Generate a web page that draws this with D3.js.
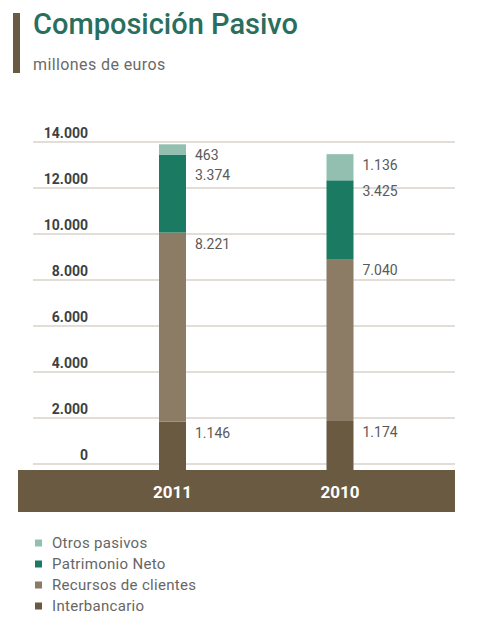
<!DOCTYPE html>
<html>
<head>
<meta charset="utf-8">
<script src="https://cdn.jsdelivr.net/npm/d3@7"></script>
<style>
  body { margin: 0; background: #fff; }
  svg { display: block; font-family: Roboto, "DejaVu Sans", sans-serif; }
</style>
</head>
<body>
<svg id="chart" width="478" height="642"></svg>
<script>
// data (millones de euros)
const years = ["2011", "2010"];
const series = ["Interbancario", "Recursos de clientes", "Patrimonio Neto", "Otros pasivos"];
const interbancario = [1146, 1174];
const recursos = [8221, 7040];
const patrimonio = [3374, 3425];
const otros = [463, 1136];
const yTicks = [0, 2000, 4000, 6000, 8000, 10000, 12000, 14000];
const colors = ["#6b5a42", "#8c7b65", "#1a7a62", "#93bfb0"];

const svg = d3.select("#chart");

const fmt = (v) => d3.format(",")(v).replace(/,/g, ".");

// title
svg.append("rect").attr("x", 13).attr("y", 13).attr("width", 7).attr("height", 60).attr("fill", "#6b5a42");
svg.append("text").attr("x", 33).attr("y", 34)
  .attr("fill", "#2a6e5e").attr("font-size", 29).attr("font-weight", 500)
  .text("Composición Pasivo");
svg.append("text").attr("x", 33).attr("y", 70)
  .attr("fill", "#6a6a6a").attr("font-size", 16).attr("letter-spacing", 0.4)
  .text("millones de euros");

// grid scale; in the original the stacks sit a bit above the 0 line,
// so the bars use the same scale shifted up
const y = d3.scaleLinear().domain([0, 14000]).range([464, 142]);
const barShift = 16;
const yBar = y.copy().range(y.range().map((r) => r - barShift));
const x = d3.scalePoint().domain(years).range([172.5, 340]);
const barW = 27;
const bandTop = 470;

// grid + tick labels
const grid = svg.append("g");
grid.selectAll("line").data(yTicks).join("line")
  .attr("x1", 33).attr("x2", 455)
  .attr("y1", (d) => y(d)).attr("y2", (d) => y(d))
  .attr("stroke", "#d8d2ca").attr("stroke-width", 1.5);
grid.selectAll("text").data(yTicks).join("text")
  .attr("x", 88).attr("y", (d) => y(d) - 4)
  .attr("text-anchor", "end")
  .attr("fill", "#3f3f3f").attr("font-size", 14).attr("font-weight", 700)
  .text((d) => fmt(d));

// bottom band
svg.append("rect").attr("x", 18).attr("y", bandTop).attr("width", 437).attr("height", 42)
  .attr("fill", "#6b5a42");

// stacked bars
const rows = years.map((yr, i) => ({
  year: yr,
  "Interbancario": interbancario[i],
  "Recursos de clientes": recursos[i],
  "Patrimonio Neto": patrimonio[i],
  "Otros pasivos": otros[i],
}));
const stacked = d3.stack().keys(series)(rows);

svg.append("g").selectAll("g").data(stacked).join("g")
  .attr("fill", (d, i) => colors[i])
  .selectAll("rect").data((d) => d.map((p) => ({ p, idx: d.index }))).join("rect")
  .attr("x", (d) => x(d.p.data.year) - barW / 2)
  .attr("width", barW)
  .attr("y", (d) => yBar(d.p[1]))
  .attr("height", (d) => (d.idx === 0 ? bandTop : yBar(d.p[0])) - yBar(d.p[1]));

// value labels, top-down, pushed apart when segments are thin
const labels = [];
years.forEach((yr, i) => {
  let last = -Infinity;
  stacked.slice().reverse().forEach((s) => {
    const p = s[i];
    const ly = Math.max(yBar(p[1]) + 16, last + 20);
    last = ly;
    labels.push({ year: yr, y: ly, v: p[1] - p[0] });
  });
});
svg.append("g").selectAll("text").data(labels).join("text")
  .attr("x", (d) => x(d.year) + barW / 2 + 9)
  .attr("y", (d) => d.y)
  .attr("fill", "#5a5a5a").attr("font-size", 14)
  .text((d) => fmt(d.v));

// year labels
svg.append("g").selectAll("text").data(years).join("text")
  .attr("x", (d) => x(d)).attr("y", 498)
  .attr("text-anchor", "middle")
  .attr("fill", "#fff").attr("font-size", 17).attr("font-weight", 700)
  .text((d) => d);

// legend
const legendItems = series.slice().reverse();
const legend = svg.append("g").selectAll("g").data(legendItems).join("g")
  .attr("transform", (d, i) => `translate(35,${543 + i * 21})`);
legend.append("rect").attr("x", 0).attr("y", -3.5).attr("width", 7).attr("height", 7)
  .attr("fill", (d) => colors[series.indexOf(d)]);
legend.append("text").attr("x", 17).attr("y", 5)
  .attr("fill", "#666").attr("font-size", 15).attr("letter-spacing", 0.3)
  .text((d) => d);
</script>
</body>
</html>
